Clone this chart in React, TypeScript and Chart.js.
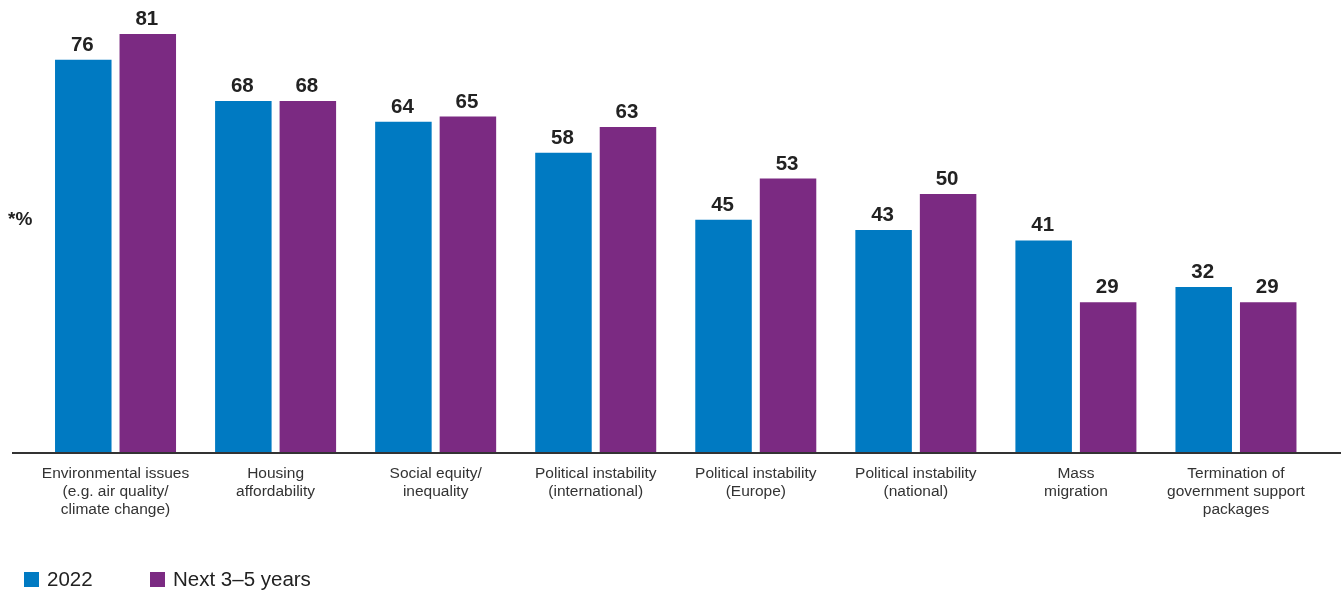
import React, { useEffect, useRef } from "react";
import { Chart, registerables } from "chart.js";

Chart.register(...registerables);

const categories: string[][] = [
  ["Environmental issues", "(e.g. air quality/", "climate change)"],
  ["Housing", "affordability"],
  ["Social equity/", "inequality"],
  ["Political instability", "(international)"],
  ["Political instability", "(Europe)"],
  ["Political instability", "(national)"],
  ["Mass", "migration"],
  ["Termination of", "government support", "packages"],
];

const series2022: number[] = [76, 68, 64, 58, 45, 43, 41, 32];
const seriesNext: number[] = [81, 68, 65, 63, 53, 50, 29, 29];

const seriesNames: string[] = ["2022", "Next 3–5 years"];
const seriesColors: string[] = ["#007AC2", "#7B2A82"];
const axisUnitLabel = "*%";

const FONT = "'Liberation Sans', Arial, Helvetica, sans-serif";

const extrasPlugin = {
  id: "extras",
  afterDatasetsDraw(chart: any) {
    const ctx = chart.ctx;
    const area = chart.chartArea;
    ctx.save();
    // value labels
    ctx.fillStyle = "#222222";
    ctx.font = `bold 20.5px ${FONT}`;
    ctx.textAlign = "center";
    ctx.textBaseline = "alphabetic";
    chart.data.datasets.forEach((ds: any, di: number) => {
      const meta = chart.getDatasetMeta(di);
      meta.data.forEach((bar: any, i: number) => {
        ctx.fillText(String(ds.data[i]), bar.x - 1, bar.y - 9);
      });
    });
    // baseline
    ctx.strokeStyle = "#333333";
    ctx.lineWidth = 2;
    ctx.beginPath();
    ctx.moveTo(12, area.bottom + 1);
    ctx.lineTo(chart.width, area.bottom + 1);
    ctx.stroke();
    // unit label
    ctx.font = `bold 19px ${FONT}`;
    ctx.textAlign = "left";
    ctx.fillStyle = "#222222";
    ctx.fillText(axisUnitLabel, 8, 225);
    // legend
    ctx.font = `20.5px ${FONT}`;
    ctx.textBaseline = "middle";
    const legendY = 579.5;
    const starts = [24, 150];
    seriesNames.forEach((name, i) => {
      ctx.fillStyle = seriesColors[i];
      ctx.fillRect(starts[i], legendY - 7.5, 15, 15);
      ctx.fillStyle = "#222222";
      ctx.fillText(name, starts[i] + 23, legendY + 1);
    });
    ctx.restore();
  },
};

export default function App() {
  const ref = useRef<HTMLCanvasElement | null>(null);
  useEffect(() => {
    if (!ref.current) return;
    const chart = new Chart(ref.current, {
      type: "bar",
      data: {
        labels: categories,
        datasets: [
          {
            label: seriesNames[0],
            data: series2022,
            backgroundColor: seriesColors[0],
            categoryPercentage: 0.806,
            barPercentage: 0.876,
          },
          {
            label: seriesNames[1],
            data: seriesNext,
            backgroundColor: seriesColors[1],
            categoryPercentage: 0.806,
            barPercentage: 0.876,
          },
        ],
      },
      options: {
        animation: false,
        responsive: false,
        maintainAspectRatio: false,
        layout: { padding: { left: 35.5, right: 25, top: 13.4, bottom: 0 } },
        plugins: {
          legend: { display: false },
          tooltip: { enabled: false },
        },
        scales: {
          x: {
            grid: { display: false },
            border: { display: false },
            ticks: {
              color: "#333333",
              font: { family: FONT, size: 15.5, lineHeight: 1.16 },
              padding: 5,
              maxRotation: 0,
              autoSkip: false,
            },
            afterFit: (scale: any) => {
              scale.height = 591 - 452;
            },
          },
          y: {
            display: false,
            min: 0,
            max: 85,
          },
        },
      },
      plugins: [extrasPlugin],
    });
    return () => chart.destroy();
  }, []);
  return (
    <div style={{ position: "absolute", left: 0, top: 0, width: 1341, height: 591, background: "#ffffff" }}>
      <canvas ref={ref} width={1341} height={591} style={{ display: "block" }} />
    </div>
  );
}
